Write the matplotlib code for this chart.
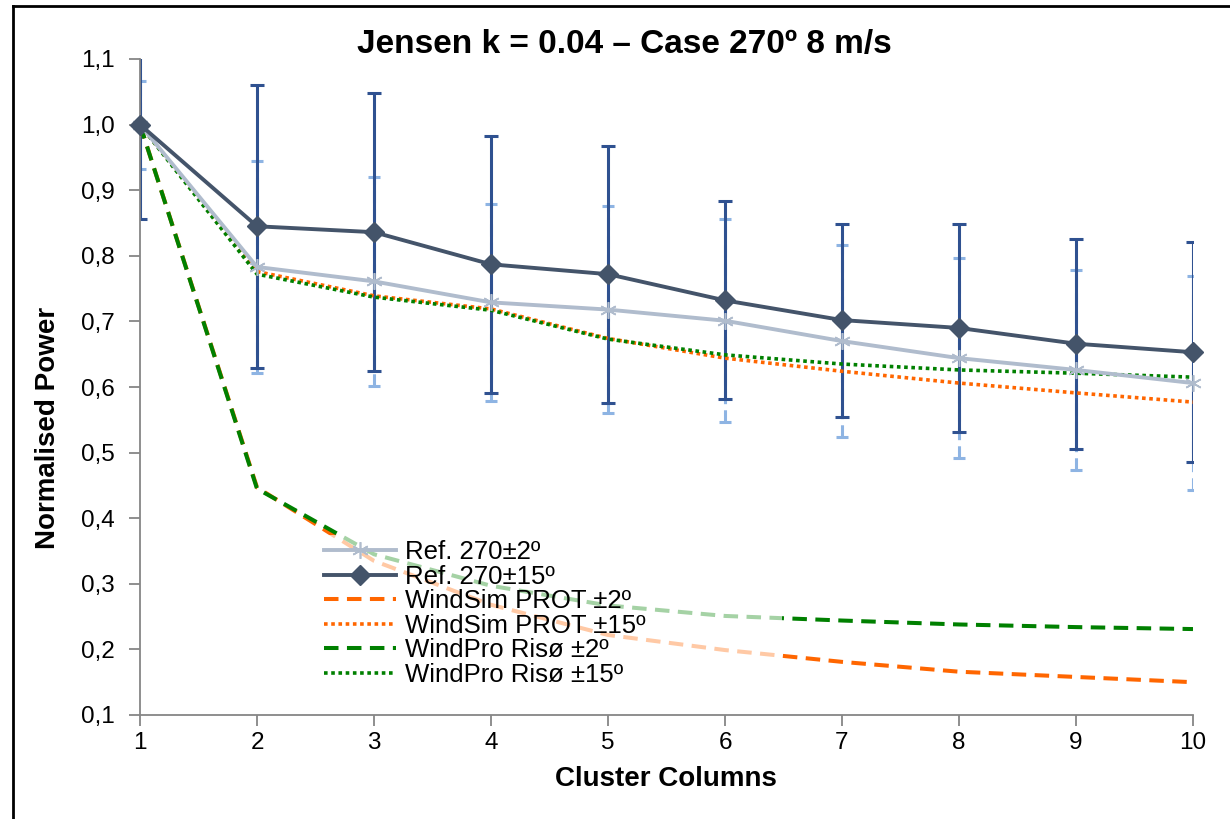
import matplotlib
matplotlib.use('Agg')
import matplotlib.pyplot as plt
from matplotlib.lines import Line2D

# values
cols = [1, 2, 3, 4, 5, 6, 7, 8, 9, 10]
ref2 = [1.0, 0.783, 0.761, 0.729, 0.718, 0.701, 0.670, 0.644, 0.626, 0.606]
ref2_err = [0.067, 0.161, 0.159, 0.150, 0.158, 0.155, 0.146, 0.152, 0.152, 0.163]
ref15 = [1.0, 0.845, 0.836, 0.787, 0.772, 0.732, 0.702, 0.690, 0.666, 0.653]
ref15_err = [0.144, 0.216, 0.212, 0.196, 0.196, 0.151, 0.147, 0.158, 0.160, 0.168]
windsim2 = [1.0, 0.447, 0.335, 0.268, 0.222, 0.199, 0.181, 0.166, 0.158, 0.150]
windsim15 = [1.0, 0.776, 0.739, 0.719, 0.674, 0.644, 0.624, 0.606, 0.591, 0.577]
windpro2 = [1.0, 0.445, 0.345, 0.297, 0.267, 0.251, 0.244, 0.238, 0.234, 0.231]
windpro15 = [1.0, 0.772, 0.737, 0.717, 0.673, 0.649, 0.635, 0.626, 0.621, 0.615]
yticks = [0.1, 0.2, 0.3, 0.4, 0.5, 0.6, 0.7, 0.8, 0.9, 1.0, 1.1]

plt.rcParams['font.family'] = ['Liberation Sans', 'DejaVu Sans']

W, H = 1230, 819
fig = plt.figure(figsize=(W / 100, H / 100), dpi=100)
ax = fig.add_axes([140 / W, 1 - 715 / H, 1053 / W, 656 / H])

# error bars first, behind the lines
eb = ax.errorbar(cols, ref2, yerr=ref2_err, fmt='none', ecolor='#8eb4e3',
                 elinewidth=2.2, capsize=4, capthick=2.2, zorder=1)
eb[2][0].set_linestyle((0, (4, 2)))
ax.errorbar(cols, ref15, yerr=ref15_err, fmt='none', ecolor='#2f5190',
            elinewidth=2.2, capsize=5, capthick=2.2, zorder=2)

ax.plot(cols, ref2, color='#b0bccd', lw=2.8, marker=(6, 2, 0), ms=12,
        mec='#b0bccd', mew=1.2, label='Ref. 270±2º', zorder=4, clip_on=False)
ax.plot(cols, ref15, color='#44546a', lw=2.8, marker='D', ms=10,
        label='Ref. 270±15º', zorder=5, clip_on=False)
ax.plot(cols, windsim2, color='#ff6600', lw=2.9, ls=(0, (3.6, 2.1)),
        label='WindSim PROT ±2º', zorder=3)
ax.plot(cols, windsim15, color='#ff6600', lw=2.6, ls=(0, (1, 1)),
        label='WindSim PROT ±15º', zorder=3)
ax.plot(cols, windpro2, color='#008000', lw=2.9, ls=(0, (3.6, 2.1)),
        label='WindPro Risø ±2º', zorder=3)
ax.plot(cols, windpro15, color='#008000', lw=2.6, ls=(0, (1, 1)),
        label='WindPro Risø ±15º', zorder=3)

ax.set_xlim(1, 10)
ax.set_ylim(0.1, 1.1)
ax.set_xticks(cols)
ax.set_yticks(yticks)
ax.set_yticklabels([f'{v:.1f}'.replace('.', ',') for v in yticks])
ax.tick_params(axis='both', direction='out', length=8, width=1.3,
               color='#868686', labelsize=17.5)
ax.tick_params(axis='y', pad=10)
ax.tick_params(axis='x', pad=4)
for s in ['top', 'right']:
    ax.spines[s].set_visible(False)
for s in ['left', 'bottom']:
    ax.spines[s].set_color('#868686')
    ax.spines[s].set_linewidth(1.3)

leg = ax.legend(loc='upper left', bbox_to_anchor=(0.17, 0.274, 0.44, 0),
                mode='expand', fontsize=18.5, frameon=True, framealpha=0.65,
                edgecolor='none', facecolor='white', fancybox=False,
                handlelength=2.8, handletextpad=0.35, labelspacing=0.02,
                borderpad=0.2, borderaxespad=0)
leg.set_zorder(6)

fig.text(624 / W, 1 - 45 / H, 'Jensen k = 0.04 – Case 270º 8 m/s',
         ha='center', va='center', fontsize=24, fontweight='bold')
fig.text(666 / W, 1 - 779 / H, 'Cluster Columns', ha='center', va='center',
         fontsize=20, fontweight='bold')
fig.text(48 / W, 1 - 428 / H, 'Normalised Power', ha='center', va='center',
         rotation=90, fontsize=20, fontweight='bold')

# outer frame (only top and left edges visible)
fig.add_artist(Line2D([13 / W, 13 / W], [0, 1 - 6 / H], transform=fig.transFigure,
                      color='black', lw=2))
fig.add_artist(Line2D([13 / W, 1], [1 - 6 / H, 1 - 6 / H], transform=fig.transFigure,
                      color='black', lw=2))

fig.savefig('out.png', dpi=100)
